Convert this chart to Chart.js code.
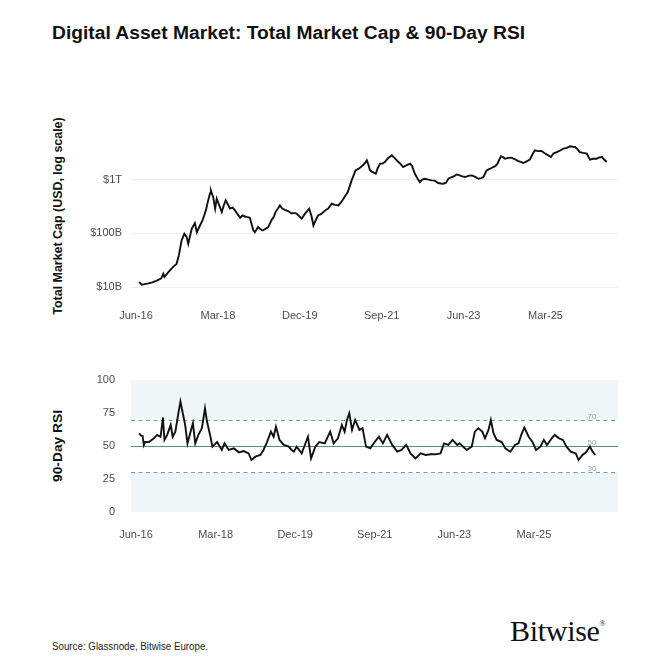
<!DOCTYPE html>
<html>
<head>
<meta charset="utf-8">
<script src="https://cdn.jsdelivr.net/npm/chart.js@4.4.1/dist/chart.umd.min.js"></script>
<style>
  html, body { margin: 0; padding: 0; background: #fff; }
  body { width: 671px; height: 671px; position: relative; overflow: hidden; font-family: "Liberation Sans", Arial, sans-serif; color: #111; }
  .abs { position: absolute; white-space: nowrap; }
  #title { left: 52px; top: 22px; font-size: 18px; line-height: 22px; font-weight: bold; transform-origin: 0 50%; }
  .ytitle { font-size: 13px; font-weight: bold; line-height: 15px; }
  #source { left: 52px; top: 641px; font-size: 10px; line-height: 12px; color: #222; transform-origin: 0 50%; }
  #logo { left: 510px; top: 607px; font-family: "Liberation Serif", "Times New Roman", serif; font-size: 30px; line-height: 34px; color: #111; letter-spacing: -0.3px; }
  #logo sup { font-size: 8px; vertical-align: 15px; letter-spacing: 0; }
  canvas { position: absolute; left: 0; }
</style>
</head>
<body>
<div id="title" class="abs">Digital Asset Market: Total Market Cap &amp; 90-Day RSI</div>
<div id="ytitle1" class="abs ytitle">Total Market Cap (USD, log scale)</div>
<div id="ytitle2" class="abs ytitle">90-Day RSI</div>
<canvas id="capChart" width="671" height="227" style="top:100px"></canvas>
<canvas id="rsiChart" width="671" height="182" style="top:360px"></canvas>
<div id="source" class="abs">Source: Glassnode, Bitwise Europe.</div>
<div id="logo" class="abs">Bitwise<sup>®</sup></div>
<script>
// months since Jun-2016
const tickMonths = [0, 21, 42, 63, 84, 105];
const tickLabels = ['Jun-16', 'Mar-18', 'Dec-19', 'Sep-21', 'Jun-23', 'Mar-25'];

// total market cap, USD billions
const capMonths = [0.8, 1.5, 2.2, 3.2, 4.2, 5, 5.7, 6.5, 7, 7.3, 8.2, 9.1, 9.6, 10.4, 11, 11.7, 12.4, 13, 13.4, 14.3,
  15.1, 15.6, 16.4, 17, 17.5, 18, 18.4, 19, 19.2, 19.8, 20.3, 20.7, 21.3, 22, 22.5, 23, 23.6, 24.1, 24.8, 25.4,
  26, 26.7, 27.3, 27.9, 28.6, 29.2, 30.1, 30.5, 31.3, 31.8, 32.4, 33.1, 33.9, 34.8, 35.3, 35.8, 36.4, 36.9, 37.5, 38.2,
  39, 39.9, 40.6, 41.2, 42, 42.5, 43.3, 44.4, 45, 45.5, 46, 46.7, 47.5, 48.5, 49.3, 50.2, 51, 51.9, 52.6, 53.2,
  54.3, 54.8, 55.3, 56.3, 57.1, 57.9, 58.6, 59.2, 59.6, 60, 60.6, 61.5, 62, 62.6, 63.2, 63.8, 64.6, 65.6, 66.4, 67.3,
  67.9, 68.5, 69.3, 70.3, 70.8, 71.5, 72.2, 72.8, 73.4, 74.1, 75, 75.8, 76.6, 77.5, 78.2, 78.8, 79.5, 80.1, 80.8, 81.5,
  82.2, 83, 83.7, 84.4, 85.2, 86.1, 87, 87.8, 88.5, 89.1, 89.9, 90.8, 91.6, 92.2, 92.7, 93.2, 93.6, 94.2, 94.6, 95.4,
  96.3, 97.2, 98, 98.7, 99.3, 100.2, 101, 101.7, 102.3, 103.1, 104, 104.8, 105.5, 106.4, 107.1, 107.9, 108.8, 109.6, 110.5, 111.3,
  112, 112.6, 113.2, 113.8, 114.7, 115.6, 116.4, 117.2, 118.1, 118.8, 119.5, 120.1, 120.7];
const capValues = [12.3, 11.0, 11.3, 11.7, 12.2, 12.8, 13.6, 14.5, 17.6, 15.4, 18.5, 21.9, 24, 27, 39, 74, 98, 85, 64, 122,
  155, 105, 140, 170, 216, 280, 382, 560, 631, 473, 288, 442, 340, 250, 330, 411, 340, 288, 300, 267,
  230, 195, 215, 206, 200, 195, 113, 105, 131, 122, 113, 120, 131, 179, 200, 250, 290, 331, 290, 275,
  260, 235, 240, 232, 205, 187, 230, 288, 210, 140, 170, 216, 230, 267, 290, 356, 340, 331, 380, 442,
  587, 750, 970, 1490, 1600, 1770, 2000, 2290, 1900, 1490, 1400, 1290, 1650, 1990, 2000, 2130, 2500, 2840, 2500, 2130,
  1950, 1720, 1850, 1990, 1800, 1290, 1050, 900, 1000, 1040, 1000, 970, 960, 865, 850, 840, 880, 1040, 1100, 1150,
  1250, 1200, 1150, 1120, 1180, 1200, 1130, 1040, 1070, 1120, 1490, 1600, 1720, 1800, 1990, 2400, 2720, 2600, 2460, 2550,
  2570, 2400, 2220, 2150, 2040, 2200, 2360, 3000, 3520, 3400, 3420, 3100, 2900, 2640, 3100, 3270, 3500, 3790, 3900, 4180,
  4100, 4060, 3700, 3270, 3150, 3050, 2360, 2450, 2460, 2600, 2640, 2350, 2130];
const capTicks = [1e10, 1e11, 1e12];
const capTickLabels = ['$10B', '$100B', '$1T'];

// 90-day RSI
const rsiMonths = [0.82, 1.34, 1.75, 2.06, 2.37, 3.4, 4.73, 5.56, 6.48, 7.1, 7.51, 8.23, 9.16, 9.67, 10.39, 11.11, 11.73, 12.35, 12.97, 13.58,
  14.3, 15.02, 15.64, 16.46, 17.39, 18.21, 18.73, 19.55, 20.17, 21.4, 22.64, 23.36, 24.49, 25.83, 27.17, 28.4, 29.74, 30.46, 31.49, 32.83,
  33.65, 34.57, 35.6, 36.32, 36.94, 37.87, 39, 40.34, 41.06, 41.67, 42.39, 43.73, 45.38, 46.2, 47.33, 48.36, 49.8, 51.24, 52.17, 53.3,
  54.33, 55.05, 55.67, 56.29, 57.01, 57.83, 58.96, 59.78, 60.71, 61.84, 62.97, 64.11, 65.14, 66.27, 67.61, 68.94, 70.07, 71.31, 72.44, 73.78,
  75.12, 76.45, 77.79, 79.03, 80.36, 81.29, 82.42, 83.55, 84.79, 85.41, 87.26, 88.6, 89.42, 90.35, 91.38, 92.1, 93.02, 93.64, 94.36, 95.18,
  96.52, 97.45, 98.78, 100.02, 100.94, 101.67, 102.49, 103.62, 104.65, 105.58, 106.71, 107.63, 108.46, 109.69, 110.51, 111.65, 112.68, 113.6, 114.73, 116.07,
  116.79, 117.82, 118.75, 119.78, 120.5, 121.2];
const rsiValues = [59.6, 57.8, 57.6, 50.8, 53, 53, 55.8, 58.4, 57, 71.5, 54.6, 58.4, 66, 57, 60.9, 73.6, 83.7, 74.8, 66, 52,
  59.6, 67.2, 52, 58.4, 63.5, 78.6, 68.5, 58.4, 49.5, 53, 47, 52, 47, 48.2, 45.2, 46.2, 44.4, 39.4, 41.9, 43.2,
  47, 53, 60.9, 57, 64.7, 54.6, 50.8, 49.5, 47, 45.7, 49.5, 44.4, 57, 40.6, 49.5, 53, 52, 60.9, 52, 55.8,
  66, 60.9, 69.7, 74.8, 62.2, 69.7, 62.2, 63.5, 49.5, 48.2, 53, 57, 52, 58.4, 50.8, 45.7, 47, 50.8, 44.4, 40.6,
  44.4, 43.2, 43.7, 43.7, 44.4, 52, 50.8, 54.6, 50.8, 52, 47, 49.5, 60.9, 63.5, 60.9, 55.8, 62.2, 69.7, 59.6, 54.6,
  53, 48.2, 45.7, 50.8, 52, 58.4, 64, 57, 53, 47, 49.5, 54.6, 50.8, 55.8, 58.4, 55.8, 54.6, 49.5, 45.7, 44.4,
  39.4, 43.2, 45.2, 49.5, 45.7, 43.2];
const rsiTicks = [0, 25, 50, 75, 100];
const rsiLevels = [70, 50, 30];
const rsiBands = [[70, 100], [0, 30]];

const tickFont = { family: '"Liberation Sans", Arial, sans-serif', size: 11 };
const tickColor = '#4d4d4d';

function fitText(el, width, base) {
  const w = el.scrollWidth;
  el.style.transform = (base || '') + ' scaleX(' + (width / w) + ')';
}
function placeRotated(el, cx, cy, len) {
  el.style.left = cx + 'px';
  el.style.top = cy + 'px';
  const w = el.scrollWidth;
  el.style.transform = 'translate(-50%, -50%) rotate(-90deg) scaleX(' + (len / w) + ')';
}
fitText(document.getElementById('title'), 473);
fitText(document.getElementById('source'), 156);
placeRotated(document.getElementById('ytitle1'), 57, 216, 197);
placeRotated(document.getElementById('ytitle2'), 57, 446, 72);

function xScale(min, max, pad, h) {
  return {
    type: 'linear', min: min, max: max,
    grid: { display: false }, border: { display: false },
    afterBuildTicks: s => { s.ticks = tickMonths.map(v => ({ value: v })); },
    afterFit: s => { s.height = h; },
    ticks: {
      autoSkip: false, maxRotation: 0, padding: pad, color: tickColor, font: tickFont,
      callback: v => tickLabels[tickMonths.indexOf(v)]
    }
  };
}

new Chart(document.getElementById('capChart'), {
  type: 'line',
  data: {
    datasets: [{
      data: capMonths.map((m, i) => ({ x: m, y: capValues[i] * 1e9 })),
      borderColor: '#111', borderWidth: 1.9, pointRadius: 0, tension: 0
    }]
  },
  options: {
    responsive: false, animation: false,
    layout: { padding: { top: 26, right: 53, left: 0, bottom: 0 } },
    plugins: { legend: { display: false }, tooltip: { enabled: false } },
    scales: {
      x: xScale(-1.28, 123.6, 14, 40),
      y: {
        type: 'logarithmic', min: 1e10, max: 1e13,
        border: { display: false },
        grid: { color: '#eeeeee', lineWidth: 1, drawTicks: false },
        afterBuildTicks: s => { s.ticks = capTicks.map(v => ({ value: v })); },
        afterFit: s => { s.width = 131; },
        ticks: {
          padding: 9, color: tickColor, font: tickFont,
          callback: v => capTickLabels[capTicks.indexOf(v)]
        }
      }
    }
  }
});

const rsiDecor = {
  id: 'rsiDecor',
  beforeDatasetsDraw(chart) {
    const { ctx, chartArea: a, scales: { y } } = chart;
    ctx.save();
    ctx.fillStyle = '#eef6f8';
    rsiBands.forEach(b => {
      const t = y.getPixelForValue(b[1]), bt = y.getPixelForValue(b[0]);
      ctx.fillRect(a.left, t, a.right - a.left, bt - t);
    });
    rsiLevels.forEach(l => {
      const py = Math.round(y.getPixelForValue(l)) + 0.5;
      ctx.beginPath();
      ctx.lineWidth = 1;
      if (l === 50) { ctx.setLineDash([]); ctx.strokeStyle = '#5d878c'; }
      else { ctx.setLineDash([4, 3.5]); ctx.strokeStyle = '#7aa5a5'; }
      ctx.moveTo(a.left, py);
      ctx.lineTo(a.right, py);
      ctx.stroke();
      ctx.setLineDash([]);
      ctx.fillStyle = '#7fb0b0';
      ctx.font = '8px "Liberation Sans", Arial, sans-serif';
      ctx.textAlign = 'center';
      ctx.textBaseline = 'bottom';
      ctx.fillText(String(l), 592, py);
    });
    ctx.restore();
  }
};

new Chart(document.getElementById('rsiChart'), {
  type: 'line',
  data: {
    datasets: [{
      data: rsiMonths.map((m, i) => ({ x: m, y: rsiValues[i] })),
      borderColor: '#111', borderWidth: 1.9, pointRadius: 0, tension: 0
    }]
  },
  options: {
    responsive: false, animation: false,
    layout: { padding: { top: 20, right: 53, left: 0, bottom: 0 } },
    plugins: { legend: { display: false }, tooltip: { enabled: false } },
    scales: {
      x: xScale(-1.32, 127.2, 8, 30),
      y: {
        min: 0, max: 100,
        border: { display: false },
        grid: { display: false },
        afterBuildTicks: s => { s.ticks = rsiTicks.map(v => ({ value: v })); },
        afterFit: s => { s.width = 131; },
        ticks: { padding: 8, color: tickColor, font: tickFont }
      }
    }
  },
  plugins: [rsiDecor]
});
</script>
</body>
</html>
